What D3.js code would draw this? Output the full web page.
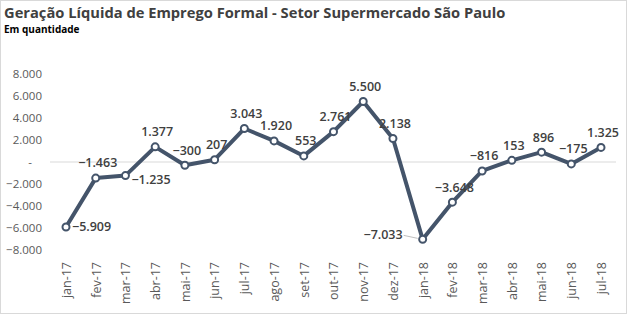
<!DOCTYPE html>
<html>
<head>
<meta charset="utf-8">
<script src="https://cdn.jsdelivr.net/npm/d3@7"></script>
<style>
  body { margin: 0; background: #fff; }
  text { font-family: "Open Sans", sans-serif; }
</style>
</head>
<body>
<svg id="grafico"></svg>
<script>
// dados do grafico
const meses = ["jan-17","fev-17","mar-17","abr-17","mai-17","jun-17","jul-17","ago-17","set-17",
  "out-17","nov-17","dez-17","jan-18","fev-18","mar-18","abr-18","mai-18","jun-18","jul-18"]
const saldo = [-5909, -1463, -1235, 1377, -300, 207, 3043, 1920, 553,
  2761, 5500, 2138, -7033, -3648, -816, 153, 896, -175, 1325]
const ticks_y = [-8000, -6000, -4000, -2000, 0, 2000, 4000, 6000, 8000]

// onde fica o rotulo de cada ponto (padrao: acima)
const posicao_rotulo = { 0: "direita", 2: "direita", 12: "esquerda" }

const largura = 627, altura = 314
const svg = d3.select("#grafico").attr("width", largura).attr("height", altura)

// formato brasileiro: 1.377
const br = d3.formatLocale({ decimal: ",", thousands: ".", grouping: [3], currency: ["R$", ""] })
const fmt = br.format(",d")

// moldura
svg.append("rect")
  .attr("x", 0.5).attr("y", 0.5)
  .attr("width", largura - 1).attr("height", altura - 1)
  .style("fill", "#fff").style("stroke", "#d9d9d9")

// titulo
svg.append("text")
  .attr("x", 4).attr("y", 18)
  .style("font-size", "14.7px").style("font-weight", "bold").style("fill", "#404040")
  .text("Geração Líquida de Emprego Formal - Setor Supermercado São Paulo")
svg.append("text")
  .attr("x", 4).attr("y", 33)
  .style("font-size", "10px").style("font-weight", "bold").style("fill", "#000")
  .text("Em quantidade")

// escalas
const x = d3.scalePoint().domain(meses).range([66, 601])
const y = d3.scaleLinear().domain([-8000, 8000]).range([250, 74])

// eixo y (so os rotulos)
const eixoY = svg.append("g")
  .attr("transform", "translate(42,0)")
  .call(d3.axisLeft(y).tickValues(ticks_y).tickSize(0).tickPadding(0)
    .tickFormat(d => d == 0 ? "-" : fmt(d)))
eixoY.select(".domain").remove()
eixoY.selectAll("text")
  .style("font-family", "Open Sans, sans-serif")
  .style("font-size", "11.5px").style("fill", "#595959")
eixoY.selectAll(".tick").filter(d => d == 0).select("text").attr("x", -10)

// linha do zero
svg.append("line")
  .attr("x1", 50).attr("x2", 616)
  .attr("y1", y(0)).attr("y2", y(0))
  .style("stroke", "#d9d9d9").style("stroke-width", 1)

// eixo x com rotulos girados
const eixoX = svg.append("g")
  .attr("transform", "translate(0,262)")
  .call(d3.axisBottom(x).tickSize(0).tickPadding(0))
eixoX.select(".domain").remove()
eixoX.selectAll("text")
  .attr("transform", "rotate(-90)")
  .attr("x", 0).attr("y", 0).attr("dy", "0.35em")
  .style("text-anchor", "end")
  .style("font-family", "Open Sans, sans-serif")
  .style("font-size", "12.5px").style("fill", "#595959")

// linha da serie
const linha = d3.line()
  .x((d, i) => x(meses[i]))
  .y(d => y(d))

svg.append("path")
  .datum(saldo)
  .attr("d", linha)
  .style("fill", "none")
  .style("stroke", "#44546a")
  .style("stroke-width", 4)
  .style("stroke-linejoin", "round")

// marcadores
svg.selectAll("circle.ponto")
  .data(saldo)
  .join("circle")
  .attr("class", "ponto")
  .attr("cx", (d, i) => x(meses[i]))
  .attr("cy", d => y(d))
  .attr("r", 3.5)
  .style("fill", "#fff")
  .style("stroke", "#44546a")
  .style("stroke-width", 2)

// linha guia do rotulo de jan-18
const i_min = 12
svg.append("line")
  .attr("x1", x(meses[i_min]) - 19).attr("y1", y(saldo[i_min]) - 4)
  .attr("x2", x(meses[i_min]) - 5).attr("y2", y(saldo[i_min]) - 1)
  .style("stroke", "#bfbfbf").style("stroke-width", 1)

// rotulos dos valores
svg.selectAll("text.rotulo")
  .data(saldo)
  .join("text")
  .attr("class", "rotulo")
  .attr("x", (d, i) => {
    const p = posicao_rotulo[i]
    if (p == "direita") return x(meses[i]) + 6
    if (p == "esquerda") return x(meses[i]) - 20
    return x(meses[i]) + 2
  })
  .attr("y", (d, i) => {
    const p = posicao_rotulo[i]
    if (p == "direita") return y(d) + (i == 2 ? 4 : 0)
    if (p == "esquerda") return y(d) - 5
    return y(d) - 15
  })
  .attr("dy", "0.35em")
  .style("text-anchor", (d, i) => {
    const p = posicao_rotulo[i]
    if (p == "direita") return "start"
    if (p == "esquerda") return "end"
    return "middle"
  })
  .style("font-size", "12.5px").style("font-weight", "600").style("fill", "#404040")
  .text(d => fmt(d))
</script>
</body>
</html>
